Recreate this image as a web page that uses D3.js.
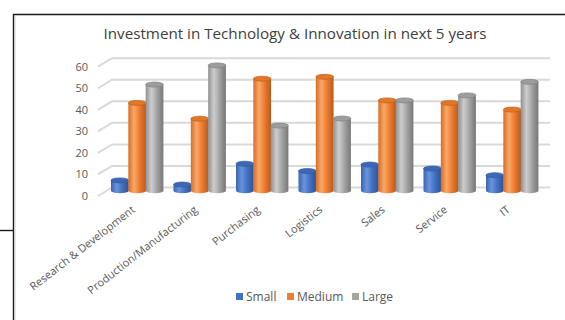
<!DOCTYPE html>
<html><head><meta charset="utf-8">
<script src="https://cdn.jsdelivr.net/npm/d3@7"></script>
<style>html,body{margin:0;padding:0;background:#fff;}svg{display:block;font-family:"Open Sans",sans-serif;}</style>
</head><body>
<script>
const categories = ["Research & Development","Production/Manufacturing","Purchasing","Logistics","Sales","Service","IT"];
const seriesNames = ["Small","Medium","Large"];
const small  = [5, 3, 13, 9.5, 12.6, 10.7, 7.5];
const medium = [42.2, 34.6, 53.8, 54.7, 43.4, 42.2, 39];
const large  = [51, 60.2, 31.3, 34.7, 43.4, 45.8, 52.3];
const yTicks = [0,10,20,30,40,50,60];
const title = "Investment in Technology & Innovation in next 5 years";
const seriesValues = [small, medium, large];
const colors = {
  Small:  {left:"#3a64b0", mid:"#4472c4", hi:"#6a93dc", right:"#2e5296", top:"#3d68b6", stroke:"#34599c"},
  Medium: {left:"#d86c24", mid:"#ed7d31", hi:"#f9a868", right:"#b85a1b", top:"#e47628", stroke:"#c0601d"},
  Large:  {left:"#909090", mid:"#a5a5a5", hi:"#cdcdcd", right:"#777777", top:"#9d9d9d", stroke:"#808080"}
};

const W = 565, H = 320;
const svg = d3.select("body").append("svg").attr("width", W).attr("height", H);
const defs = svg.append("defs");
seriesNames.forEach(s => {
  const c = colors[s];
  const g = defs.append("linearGradient").attr("id","g-"+s).attr("x1","0").attr("x2","1").attr("y1","0").attr("y2","0");
  [[0,c.left],[0.32,c.hi],[0.62,c.mid],[1,c.right]].forEach(([o,col]) => g.append("stop").attr("offset",o).attr("stop-color",col));
});

// border
svg.append("path").attr("d","M13.5,320 L13.5,14.5 L565,14.5").attr("fill","none").attr("stroke","#1a1a1a").attr("stroke-width",1.4);
svg.append("line").attr("x1",0).attr("x2",13.5).attr("y1",230.5).attr("y2",230.5).attr("stroke","#1a1a1a").attr("stroke-width",1.4);
svg.append("line").attr("x1",15).attr("x2",15).attr("y1",16).attr("y2",320).attr("stroke","#d0d0d0").attr("stroke-width",1);

// title
svg.append("text").attr("x",295).attr("y",39).attr("text-anchor","middle")
  .attr("font-size",15.2).attr("fill","#404040").text(title);

// scales
const yLab = d3.scaleLinear().domain([0,60]).range([196,66.7]);
const depthX = 14, depthY = 8.5;
const x = d3.scaleBand().domain(categories).range([105.75,543.25]).paddingInner(0.168).paddingOuter(0.084);
const xs = d3.scaleBand().domain(seriesNames).range([0, x.bandwidth()]);
const y = d3.scaleLinear().domain([0,60]).range([190.8,65.8]);

// gridlines (3D back wall + floor edge)
const grid = svg.append("g");
yTicks.forEach(t => {
  const yy = yLab(t);
  grid.append("path")
    .attr("d", `M${98},${yy} L${98+depthX},${yy-depthY} L550,${yy-depthY}`)
    .attr("fill","none").attr("stroke","#d9d9d9").attr("stroke-width",2);
});

// y axis labels
const yAxis = d3.axisLeft(yLab).tickValues(yTicks).tickSize(0).tickPadding(0);
const ya = svg.append("g").attr("transform","translate(88,0)").call(yAxis);
ya.select(".domain").remove();
ya.selectAll("text").attr("font-size",11).attr("fill","#595959").attr("font-family","Open Sans");

// bars (cylinders)
const ry = 2.5;
categories.forEach((cat, i) => {
  seriesNames.forEach((s, j) => {
    const v = seriesValues[j][i];
    const bx = x(cat) + xs(s), bw = xs.bandwidth() + 0.4;
    const cx = bx + bw/2, rx = bw/2;
    const g = svg.append("g");
    g.append("ellipse").attr("cx",cx).attr("cy",y(0)).attr("rx",rx).attr("ry",ry).attr("fill","url(#g-"+s+")");
    g.append("rect").attr("x",bx).attr("y",y(v)).attr("width",bw).attr("height",y(0)-y(v)).attr("fill","url(#g-"+s+")");
    g.append("ellipse").attr("cx",cx).attr("cy",y(v)).attr("rx",rx).attr("ry",ry)
      .attr("fill",colors[s].top).attr("stroke",colors[s].stroke).attr("stroke-width",0.7);
  });
});

// category labels
const xa = svg.append("g");
categories.forEach(cat => {
  const cx = x(cat) + x.bandwidth()/2 - 6;
  xa.append("text").attr("transform",`translate(${cx},${205}) rotate(-38)`)
    .attr("text-anchor","end").attr("dy","0.7em").attr("font-size",11).attr("fill","#595959").text(cat);
});

// legend
const legendX = [236, 287, 352];
const leg = svg.append("g");
seriesNames.forEach((s, j) => {
  leg.append("rect").attr("x",legendX[j]).attr("y",293).attr("width",7).attr("height",7).attr("fill",colors[s].mid);
  leg.append("text").attr("x",legendX[j]+10).attr("y",301).attr("font-size",12).attr("fill","#595959").text(s);
});
</script>
</body></html>
